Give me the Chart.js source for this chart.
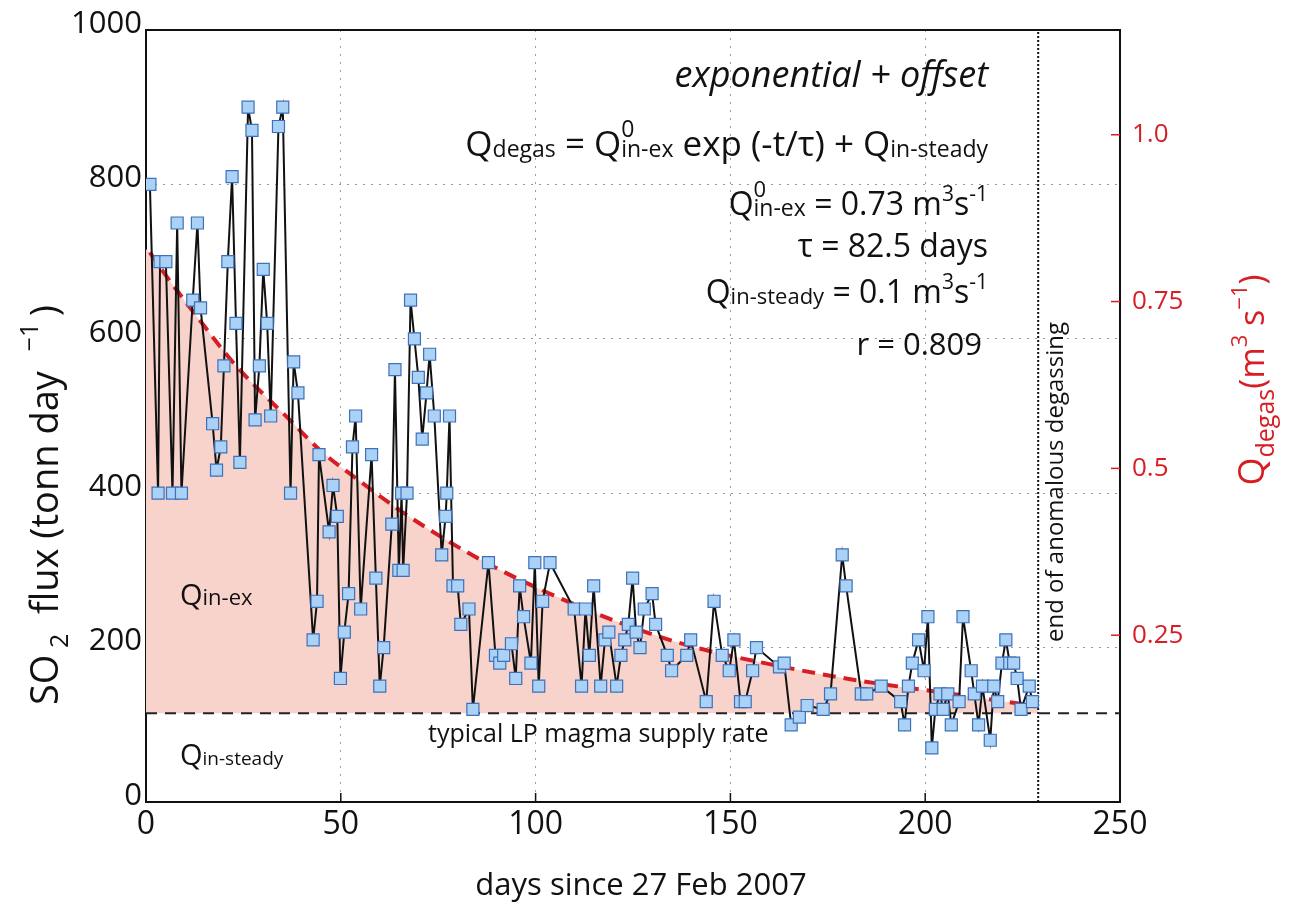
<!DOCTYPE html>
<html>
<head>
<meta charset="utf-8">
<script src="https://cdn.jsdelivr.net/npm/chart.js@4.4.1/dist/chart.umd.min.js"></script>
<style>
  html, body { margin: 0; padding: 0; background: #fff; }
  #wrap { width: 1295px; height: 909px; }
</style>
</head>
<body>
<div id="wrap"><canvas id="so2Chart" width="1295" height="909"></canvas></div>
<script>
// SO2 flux measurements (days since 27 Feb 2007, tonn/day)
const days = [1.0,3.1,3.6,5.1,6.8,8.0,9.1,12.0,13.2,14.0,
  17.1,18.1,19.2,20.0,21.0,22.1,23.1,24.1,26.2,27.2,
  28.0,29.1,30.1,31.1,32.0,34.0,35.1,37.1,37.9,39.0,
  42.9,43.9,44.4,47.0,48.0,49.1,49.9,50.9,52.0,53.0,
  53.8,55.1,57.9,59.0,60.0,61.0,63.1,63.9,64.9,65.6,
  66.0,67.0,67.9,68.9,69.9,70.9,72.0,72.8,74.0,75.9,
  76.9,77.2,77.9,78.8,80.0,80.8,82.9,83.9,87.9,89.7,
  90.8,91.8,93.8,94.9,95.9,96.9,98.8,99.8,100.8,101.8,
  103.7,109.9,111.8,112.8,113.8,114.9,116.7,117.8,118.8,120.8,
  121.9,122.9,123.8,124.9,125.8,126.8,127.9,129.9,130.8,133.8,
  134.9,138.8,139.8,143.8,145.8,147.9,149.7,150.9,152.6,153.8,
  155.7,156.7,162.6,163.8,165.6,167.7,169.7,173.8,175.7,178.7,
  179.7,183.6,185.0,188.7,193.7,194.7,195.7,196.7,198.3,199.7,
  200.7,201.7,202.6,203.8,204.6,205.8,206.7,208.7,209.7,211.8,
  212.6,213.7,214.7,216.7,217.6,218.6,219.7,220.7,221.7,222.7,
  223.6,224.6,226.7,227.5];
const flux = [800,400,700,700,400,750,400,650,750,640,
  490,430,460,565,700,810,620,440,900,870,
  495,565,690,620,500,875,900,400,570,530,
  210,260,450,350,410,370,160,220,270,460,
  500,250,450,290,150,200,360,560,300,400,
  300,400,650,600,550,470,530,580,500,320,
  370,400,500,280,280,230,250,120,310,190,
  180,190,205,160,280,240,180,310,150,260,
  310,250,150,250,190,280,150,210,220,150,
  190,210,230,290,220,200,250,270,230,190,
  170,190,210,130,260,190,170,210,130,130,
  170,200,175,180,100,110,125,120,140,320,
  280,140,140,150,130,100,150,180,210,170,
  240,70,120,140,120,140,100,130,240,170,
  140,100,150,80,150,130,180,210,180,180,
  160,120,150,130];

// exponential + offset fit
const fitDays = [1, 4.4, 13.8, 23.3, 36.9, 44.6, 54, 65.1, 76.2, 87.3, 102.7, 125.5, 141.2, 162.6, 179.7, 189.9, 207, 229];
const fitFlux = [712, 687, 624, 564, 495, 456, 419, 378, 342, 310, 272, 225, 200, 176, 160, 152, 140, 124];
const fitStartFlux = 716;   // shaded area starts at day 0

const steadyFlux = 115;     // typical LP magma supply rate
const endDay = 229;         // end of anomalous degassing

const xTicks = [0, 50, 100, 150, 200, 250];
const yTicks = [0, 200, 400, 600, 800, 1000];
const qTicks = [0, 0.25, 0.5, 0.75, 1.0];
const qMax = 1.157;         // right axis top (m3/s) matching 1000 t/d

const FONT = '"Open Sans", "Liberation Sans", sans-serif';
const RED = '#d81e25';
const INK = '#111';

function fontOf(p) {
  return (p.it ? 'italic ' : '') + p.s + 'px ' + FONT;
}

// draw a row of text pieces (for sub/superscripts)
function runs(ctx, parts, x, y, align, color) {
  ctx.fillStyle = color || INK;
  ctx.textAlign = 'left';
  ctx.textBaseline = 'alphabetic';
  let total = 0;
  parts.forEach(p => {
    ctx.font = fontOf(p);
    p.w = p.stack ? 0 : ctx.measureText(p.t).width;
    total += p.w;
  });
  let cx = align === 'right' ? x - total : align === 'center' ? x - total / 2 : x;
  parts.forEach(p => {
    ctx.font = fontOf(p);
    ctx.fillText(p.t, cx, y + (p.dy || 0));
    cx += p.w;
  });
}

const annotate = {
  id: 'annotate',
  afterDraw(chart) {
    const { ctx, chartArea: a, scales } = chart;
    ctx.save();

    // top frame
    ctx.strokeStyle = INK;
    ctx.lineWidth = 2;
    ctx.beginPath();
    ctx.moveTo(a.left - 1, a.top);
    ctx.lineTo(a.right + 1, a.top);
    ctx.stroke();

    // inner tick marks on x axis
    ctx.lineWidth = 1.5;
    xTicks.slice(1, -1).forEach(v => {
      const px = scales.x.getPixelForValue(v);
      ctx.beginPath();
      ctx.moveTo(px, a.bottom);
      ctx.lineTo(px, a.bottom - 9);
      ctx.stroke();
    });

    // red ticks of the right axis
    ctx.strokeStyle = RED;
    qTicks.slice(1).forEach(v => {
      const py = scales.y1.getPixelForValue(v);
      ctx.beginPath();
      ctx.moveTo(a.right - 9, py);
      ctx.lineTo(a.right, py);
      ctx.stroke();
    });

    // fit description, top right
    const rx = 988;
    runs(ctx, [{ t: 'exponential + offset', s: 36, it: true }], rx, 87, 'right');
    runs(ctx, [
      { t: 'Q', s: 35 }, { t: 'degas', s: 23, dy: 1 }, { t: ' = ', s: 35 },
      { t: 'Q', s: 35 }, { t: '0', s: 23, dy: -19, stack: true }, { t: 'in-ex', s: 23, dy: 1 },
      { t: ' exp (-t/τ) + ', s: 35 },
      { t: 'Q', s: 35 }, { t: 'in-steady', s: 23, dy: 1 }
    ], rx, 156, 'right');
    runs(ctx, [
      { t: 'Q', s: 32 }, { t: '0', s: 22, dy: -18, stack: true }, { t: 'in-ex', s: 23, dy: 1 },
      { t: ' = 0.73 m', s: 32 }, { t: '3', s: 21, dy: -14 }, { t: 's', s: 32 }, { t: '-1', s: 21, dy: -14 }
    ], rx, 215, 'right');
    runs(ctx, [{ t: 'τ = 82.5 days', s: 32 }], rx, 257, 'right');
    runs(ctx, [
      { t: 'Q', s: 32 }, { t: 'in-steady', s: 22, dy: 1 },
      { t: ' = 0.1 m', s: 32 }, { t: '3', s: 21, dy: -14 }, { t: 's', s: 32 }, { t: '-1', s: 21, dy: -14 }
    ], rx, 303, 'right');
    runs(ctx, [{ t: 'r = 0.809', s: 31 }], 982, 355, 'right');

    // labels inside the plot
    runs(ctx, [{ t: 'Q', s: 29 }, { t: 'in-ex', s: 22 }], 180, 605, 'left');
    runs(ctx, [{ t: 'Q', s: 29 }, { t: 'in-steady', s: 19 }], 180, 765, 'left');
    runs(ctx, [{ t: 'typical LP magma supply rate', s: 25 }], 428, 742, 'left');

    // vertical note at end of anomalous degassing
    ctx.save();
    ctx.translate(1063, 642);
    ctx.rotate(-Math.PI / 2);
    runs(ctx, [{ t: 'end of anomalous degassing', s: 24 }], 0, 0, 'left');
    ctx.restore();

    // left axis title
    ctx.save();
    ctx.translate(58, 705);
    ctx.rotate(-Math.PI / 2);
    runs(ctx, [
      { t: 'SO', s: 38 }, { t: ' 2', s: 25, dy: 10 }, { t: '  flux (tonn day  ', s: 38 },
      { t: '−1', s: 25, dy: -20 }, { t: ' ', s: 25 }, { t: ')', s: 38 }
    ], 0, 0, 'left');
    ctx.restore();

    // right axis title
    ctx.save();
    ctx.translate(1264, 380);
    ctx.rotate(-Math.PI / 2);
    runs(ctx, [
      { t: 'Q', s: 36 }, { t: 'degas', s: 25, dy: 10 }, { t: '(m', s: 34 },
      { t: '3', s: 22, dy: -17 }, { t: ' s', s: 34 }, { t: '−1', s: 22, dy: -17 }, { t: ')', s: 34 }
    ], 0, 0, 'center', RED);
    ctx.restore();

    // x axis title
    runs(ctx, [{ t: 'days since 27 Feb 2007', s: 31 }], 641, 895, 'center');

    ctx.restore();
  }
};

const fluxPoints = days.map((d, i) => ({ x: d, y: flux[i] }));
const fitPoints = fitDays.map((d, i) => ({ x: d, y: fitFlux[i] }));
const areaPoints = [{ x: 0, y: fitStartFlux }].concat(fitPoints);

const gridColor = ctx => (ctx.tick && (ctx.index === 0 || ctx.index === ctx.scale.ticks.length - 1)) ? 'rgba(0,0,0,0)' : '#9b9b9b';

const so2Chart = new Chart(document.getElementById('so2Chart').getContext('2d'), {
  type: 'line',
  data: {
    datasets: [
      {
        label: 'SO2 flux',
        data: fluxPoints,
        borderColor: '#111',
        borderWidth: 2,
        tension: 0,
        pointStyle: 'rect',
        pointRadius: 8.5,
        pointBorderWidth: 1.2,
        pointBackgroundColor: '#a9d2f6',
        pointBorderColor: '#3f70b8',
        fill: false
      },
      {
        label: 'fit',
        data: fitPoints,
        borderColor: RED,
        borderWidth: 4,
        borderDash: [13, 8],
        cubicInterpolationMode: 'monotone',
        pointRadius: 0,
        fill: false
      },
      {
        label: 'steady',
        data: [{ x: xTicks[0], y: steadyFlux }, { x: xTicks[xTicks.length - 1], y: steadyFlux }],
        borderColor: '#222',
        borderWidth: 2,
        borderDash: [11, 8],
        pointRadius: 0,
        fill: false
      },
      {
        label: 'end',
        data: [{ x: endDay, y: yTicks[0] }, { x: endDay, y: yTicks[yTicks.length - 1] }],
        borderColor: '#111',
        borderWidth: 2,
        borderDash: [2, 2],
        pointRadius: 0,
        fill: false
      },
      {
        label: 'Qin-ex area',
        data: areaPoints,
        borderWidth: 0,
        borderColor: 'rgba(0,0,0,0)',
        backgroundColor: '#f8d3cb',
        cubicInterpolationMode: 'monotone',
        pointRadius: 0,
        fill: { value: steadyFlux }
      }
    ]
  },
  options: {
    responsive: false,
    animation: false,
    devicePixelRatio: 1,
    layout: { padding: { top: 30, left: 0, right: 0, bottom: 0 } },
    plugins: {
      legend: { display: false },
      tooltip: { enabled: false }
    },
    scales: {
      x: {
        type: 'linear',
        min: xTicks[0],
        max: xTicks[xTicks.length - 1],
        afterBuildTicks: s => { s.ticks = xTicks.map(v => ({ value: v })); },
        afterFit: s => { s.height = 107; },
        grid: { color: gridColor, lineWidth: 1, drawTicks: false },
        border: { display: true, color: INK, width: 2, dash: [2, 6] },
        ticks: { color: INK, font: { family: FONT, size: 32 }, padding: 4, maxRotation: 0, callback: v => String(v) }
      },
      y: {
        type: 'linear',
        position: 'left',
        min: yTicks[0],
        max: yTicks[yTicks.length - 1],
        afterBuildTicks: s => { s.ticks = yTicks.map(v => ({ value: v })); },
        afterFit: s => { s.width = 146; },
        grid: { color: gridColor, lineWidth: 1, drawTicks: false },
        border: { display: true, color: INK, width: 2, dash: [2, 6] },
        ticks: { color: INK, font: { family: FONT, size: 31 }, padding: 4, labelOffset: -6, callback: v => String(v) }
      },
      y1: {
        type: 'linear',
        position: 'right',
        min: 0,
        max: qMax,
        afterBuildTicks: s => { s.ticks = qTicks.map(v => ({ value: v })); },
        afterFit: s => { s.width = 175; },
        grid: { display: false, drawTicks: false },
        border: { display: true, color: INK, width: 2 },
        ticks: {
          color: RED,
          font: { family: FONT, size: 26 },
          padding: 12,
          callback: v => v === 0 ? '' : (v === 1 ? '1.0' : String(v))
        }
      }
    }
  },
  plugins: [annotate]
});
</script>
</body>
</html>
